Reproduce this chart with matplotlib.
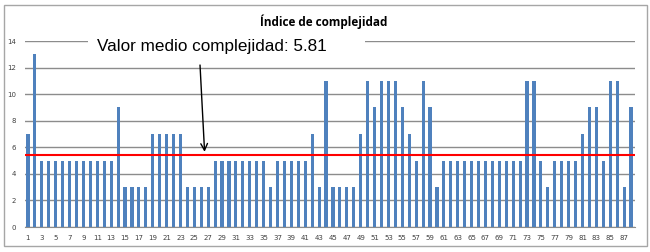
import matplotlib
matplotlib.use("Agg")
import matplotlib.pyplot as plt
from matplotlib.patches import Rectangle
import numpy as np

categories = list(range(1, 89))
values = [7, 13, 5, 5, 5, 5, 5, 5, 5, 5, 5, 5, 5, 9, 3, 3, 3, 3, 7, 7,
          7, 7, 7, 3, 3, 3, 3, 5, 5, 5, 5, 5, 5, 5, 5, 3, 5, 5, 5, 5,
          5, 7, 3, 11, 3, 3, 3, 3, 7, 11, 9, 11, 11, 11, 9, 7, 5, 11, 9, 3,
          5, 5, 5, 5, 5, 5, 5, 5, 5, 5, 5, 5, 11, 11, 5, 3, 5, 5, 5, 5,
          7, 9, 9, 5, 11, 11, 3, 9]
mean_line = 5.45
title = "Índice de complejidad"
annot = "Valor medio complejidad: 5.81"
yticks = list(range(0, 15, 2))
xticks = list(range(1, 89, 2))

W, H = 650, 252
fig = plt.figure(figsize=(W / 100, H / 100), dpi=100)
fig.patch.set_facecolor("white")

# outer frame
fig.patches.append(Rectangle((4 / W, 1 - 246 / H), (647 - 4) / W, (246 - 5) / H,
                             transform=fig.transFigure, fill=False,
                             edgecolor="#a6a6a6", linewidth=1))

ax = fig.add_axes([24.5 / W, 1 - 227 / H, (634.5 - 24.5) / W, (227 - 41) / H])
ax.bar(categories, values, width=0.45, color="#4F81BD", zorder=3)
ax.axhline(mean_line, color="#ff0000", linewidth=1.5, zorder=4)

ax.set_xlim(0.5, 88.5)
ax.set_ylim(0, 14)
ax.set_yticks(yticks)
ax.set_xticks(xticks)
ax.tick_params(axis="both", length=0, labelsize=5, colors="#404040", pad=6)
ax.yaxis.grid(True, color="#8c8c8c", linewidth=1, zorder=0)
for s in ["top", "right", "left"]:
    ax.spines[s].set_visible(False)
ax.spines["bottom"].set_color("#8c8c8c")

fig.text(324 / W, 1 - 22 / H, title, ha="center", va="center",
         fontsize=8.5, fontweight="bold", family="Open Sans")

# white box behind annotation text
fig.patches.append(Rectangle((88 / W, 1 - 56 / H), (365 - 88) / W, (56 - 34) / H,
                             transform=fig.transFigure, facecolor="white",
                             edgecolor="none", zorder=5))
fig.text(97 / W, 1 - 46 / H, annot, ha="left", va="center",
         fontsize=12.3, family="Liberation Sans", zorder=6)

ax.annotate("", xy=(26.5, mean_line), xytext=(25.8, 12.4),
            arrowprops=dict(arrowstyle="->", color="black", lw=1,
                            mutation_scale=12), zorder=6)

fig.savefig("out.png", dpi=100)
